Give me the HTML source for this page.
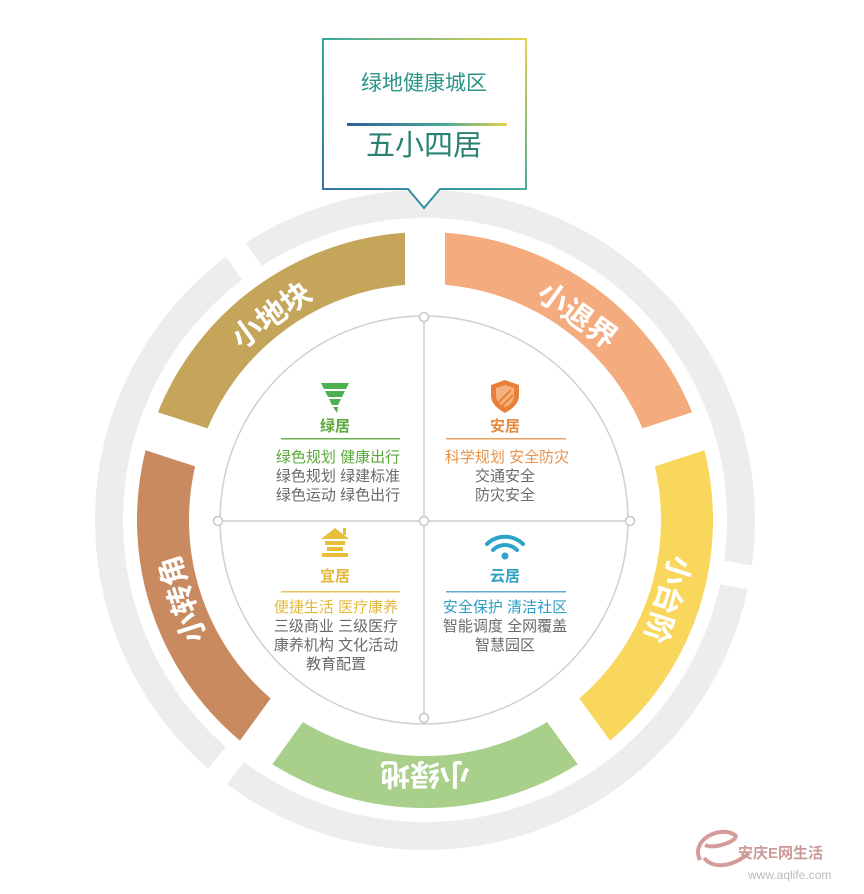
<!DOCTYPE html>
<html><head><meta charset="utf-8">
<style>
html,body{margin:0;padding:0;background:#fff;}
body{width:864px;height:889px;overflow:hidden;font-family:"Liberation Sans","Noto Sans CJK SC",sans-serif;}
svg text{font-family:"Liberation Sans","Noto Sans CJK SC",sans-serif;}
</style></head><body>
<svg id="s" width="864" height="889" viewBox="0 0 864 889" xmlns="http://www.w3.org/2000/svg">
<defs>
<linearGradient id="bd" x1="0" y1="1" x2="1" y2="0">
<stop offset="0" stop-color="#2f6fa8"/><stop offset="0.5" stop-color="#3aa6a0"/><stop offset="1" stop-color="#e8d24a"/>
</linearGradient>
<linearGradient id="ln" x1="0" y1="0" x2="1" y2="0">
<stop offset="0" stop-color="#2f5f9a"/><stop offset="0.6" stop-color="#4aa79a"/><stop offset="1" stop-color="#e6d24a"/>
</linearGradient>
</defs>
<g id="gray"></g>
<g id="segs"></g>
<!-- callout -->
<path d="M323,39 H526 V189 H440 L424,208 L408,189 H323 Z" fill="#fff" stroke="url(#bd)" stroke-width="2"/>
<text x="424" y="90" text-anchor="middle" font-size="21" fill="#2a9486">绿地健康城区</text>
<rect x="347" y="123" width="160" height="3" fill="url(#ln)"/>
<text x="424" y="155" text-anchor="middle" font-size="29" fill="#2b8272">五小四居</text>
<!-- inner circle -->
<circle cx="424" cy="520" r="204" fill="#fff" stroke="#cfcfcf" stroke-width="1.5"/>
<line x1="424" y1="316" x2="424" y2="724" stroke="#cfcfcf" stroke-width="1.5"/>
<line x1="220" y1="521" x2="628" y2="521" stroke="#cfcfcf" stroke-width="1.5"/>
<g fill="#fff" stroke="#c8c8c8" stroke-width="1.5">
<circle cx="424" cy="317" r="4.5"/><circle cx="424" cy="718" r="4.5"/><circle cx="218" cy="521" r="4.5"/><circle cx="630" cy="521" r="4.5"/><circle cx="424" cy="521" r="4.5"/>
</g>
<!-- icons -->
<g fill="#4caf50">
<path d="M321,383 h28 l-3,6 h-22 z"/><path d="M325,391 h20 l-3,6 h-14 z"/><path d="M329,399 h12 l-3,6 h-6 z"/><path d="M333,407 h5 l-1,6 z"/>
</g>
<path d="M505,380 l14,5 v10 c0,9 -7,14 -14,18 c-7,-4 -14,-9 -14,-18 v-10 z" fill="#e9803a"/>
<path d="M505,385 l9,3 v7 c0,6 -4,10 -9,12 c-5,-2 -9,-6 -9,-12 v-7 z" fill="#f5b27d"/>
<path d="M499,402 l12,-12 M502,406 l11,-11" stroke="#e9803a" stroke-width="2"/>
<g fill="#e8bd3a">
<path d="M335,528 l14,11 h-28 z"/><rect x="325" y="541" width="20" height="4"/><rect x="327" y="547" width="16" height="4"/><rect x="322" y="553" width="26" height="4"/><rect x="343" y="528" width="3" height="7"/>
</g>
<g fill="none" stroke="#2ea3c9" stroke-width="4" stroke-linecap="round">
<path d="M487,544 a26,26 0 0 1 36,0"/><path d="M493,550 a17,17 0 0 1 24,0"/>
</g>
<circle cx="505" cy="556" r="3.5" fill="#2ea3c9"/>
<!-- titles -->
<g font-size="15" font-weight="bold" text-anchor="middle">
<text x="335" y="431" fill="#5aa83c">绿居</text>
<text x="505" y="431" fill="#e68a3c">安居</text>
<text x="335" y="581" fill="#e3b83a">宜居</text>
<text x="505" y="581" fill="#2f9fc4">云居</text>
</g>
<rect x="281" y="438" width="119" height="1.5" fill="#6ab04c"/>
<rect x="446" y="438" width="120" height="1.5" fill="#e8a060"/>
<rect x="281" y="591" width="119" height="1.5" fill="#e6c560"/>
<rect x="446" y="591" width="120" height="1.5" fill="#5ab0cf"/>
<g font-size="15" text-anchor="middle" fill="#6a6a6a">
<text x="338" y="462" fill="#5aa83c">绿色规划  健康出行</text>
<text x="338" y="481">绿色规划  绿建标准</text>
<text x="338" y="500">绿色运动  绿色出行</text>
<text x="507" y="462" fill="#e8914a">科学规划  安全防灾</text>
<text x="505" y="481">交通安全</text>
<text x="505" y="500">防灾安全</text>
<text x="336" y="612" fill="#e3b83a">便捷生活  医疗康养</text>
<text x="336" y="631">三级商业  三级医疗</text>
<text x="336" y="650">康养机构 文化活动</text>
<text x="336" y="669">教育配置</text>
<text x="505" y="612" fill="#2f9fc4">安全保护  清洁社区</text>
<text x="505" y="631">智能调度  全网覆盖</text>
<text x="505" y="650">智慧园区</text>
</g>
<!-- segment labels -->
<g font-size="30" font-weight="bold" fill="#fff" text-anchor="middle" dominant-baseline="central">
<text transform="translate(272,316) rotate(-36)">小地块</text>
<text transform="translate(577,316) rotate(36)">小退界</text>
<text transform="translate(183,599) rotate(-108)">小转角</text>
<text transform="translate(425,773) rotate(180)">小绿地</text>
<text transform="translate(667,599) rotate(108)">小台阶</text>
</g>
<!-- watermark -->
<path d="M700,860 c-10,-20 20,-35 35,-25 c5,5 -20,15 -30,10 M704,858 c10,12 30,8 45,-5" fill="none" stroke="#d59a9a" stroke-width="4"/>
<text x="738" y="858" font-size="15" font-weight="bold" fill="#c99">安庆E网生活</text>
<text x="748" y="879" font-size="12" fill="#bbb">www.aqlife.com</text>
</svg>
<script>
(function(){
var cx=425,cy=520,NS="http://www.w3.org/2000/svg";
function P(r,a){a=a*Math.PI/180;return [cx+r*Math.cos(a),cy-r*Math.sin(a)];}
function seg(r1,r2,a1,a2,g){
 var o1=a1+Math.asin(g/r2)*180/Math.PI,o2=a2-Math.asin(g/r2)*180/Math.PI;
 var i1=a1+Math.asin(g/r1)*180/Math.PI,i2=a2-Math.asin(g/r1)*180/Math.PI;
 var A=P(r2,o1),B=P(r2,o2),C=P(r1,i2),D=P(r1,i1);
 var lo=(o2-o1)>180?1:0,li=(i2-i1)>180?1:0;
 return "M"+A+" A"+r2+","+r2+" 0 "+lo+" 0 "+B+" L"+C+" A"+r1+","+r1+" 0 "+li+" 1 "+D+" Z";
}
function add(id,d,f){var p=document.createElementNS(NS,"path");p.setAttribute("d",d);p.setAttribute("fill",f);document.getElementById(id).appendChild(p);}
var cols=[["#f4ab7e",18,90],["#c4a55a",90,162],["#c98a60",162,234],["#a9d08b",234,306],["#f8d75c",306,378]];
cols.forEach(function(c){add("segs",seg(236,288,c[1],c[2],20),c[0]);});
var gg=[[-10,125],[125,231],[231,350]];
gg.forEach(function(c){add("gray",seg(302,330,c[0],c[1],12),"#ededed");});
})();
</script>
</body></html>
